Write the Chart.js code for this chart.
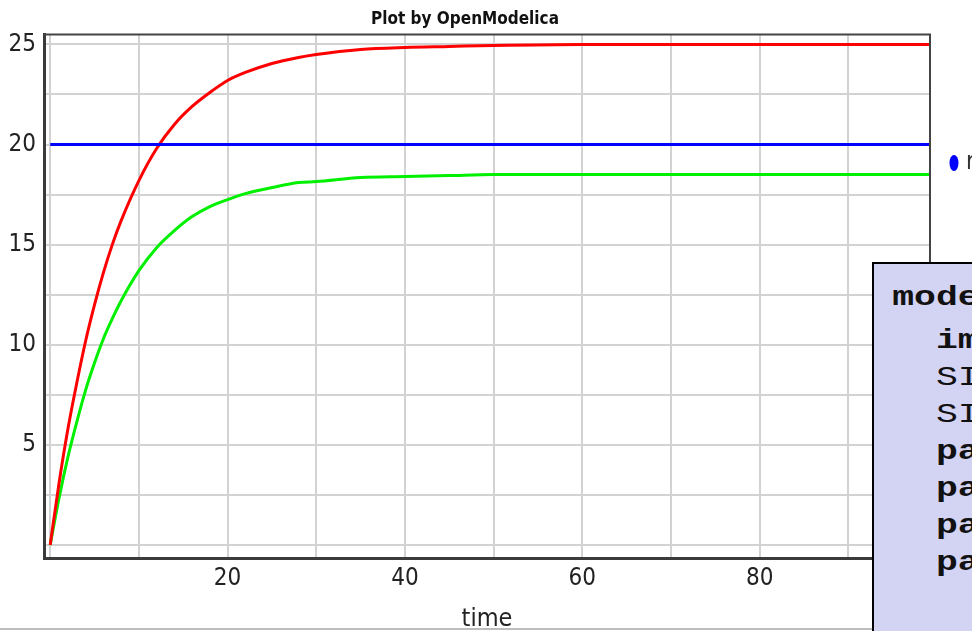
<!DOCTYPE html>
<html>
<head>
<meta charset="utf-8">
<script src="https://cdn.jsdelivr.net/npm/chart.js@4.4.0/dist/chart.umd.min.js"></script>
<style>
  html, body { margin: 0; padding: 0; background: #fff; overflow: hidden; }
  #wrap { position: relative; width: 972px; height: 631px; }
  #grafico { position: absolute; left: 0; top: 0; }
  #codigo {
    position: absolute; left: 872px; top: 262px; width: 140px; height: 400px;
    background: #d3d3f3; border: 2px solid #000; overflow: hidden;
  }
  #codigo .txt {
    padding: 15px 0 0 14px;
    font-family: 'Liberation Mono', 'DejaVu Sans Mono', monospace;
    font-size: 28px; line-height: 37px; color: #111; white-space: pre;
    transform: scaleX(1.3); transform-origin: left top;
  }
  #codigo .txt div:first-child { height: 43px; }
  #codigo b { font-weight: bold; }
  #linea { position: absolute; left: 0; top: 628px; width: 872px; height: 2px; background: #bdbdbd; }
</style>
</head>
<body>
<div id="wrap">
  <canvas id="grafico" width="972" height="631"></canvas>
  <div id="linea"></div>
  <div id="codigo"><div class="txt"><div><b>model</b></div><div>  <b>import</b></div><div>  SI</div><div>  SI</div><div>  <b>parameter</b></div><div>  <b>parameter</b></div><div>  <b>parameter</b></div><div>  <b>parameter</b></div></div></div>
</div>
<script>
// valores
var tiempo = [0, 1, 2, 3, 4, 5, 6, 7, 8, 10, 12, 14, 16, 18, 20, 22, 25, 28, 30, 35, 40, 45, 50, 60, 70, 80, 90, 100];
var serieRoja = [0, 3.1, 5.8, 8.1, 10.2, 12.0, 13.6, 15.0, 16.2, 18.2, 19.8, 21.0, 21.9, 22.6, 23.2, 23.6, 24.05, 24.35, 24.5, 24.75, 24.85, 24.9, 24.95, 25, 25, 25, 25, 25];
var serieVerde = [0, 2.35, 4.4, 6.15, 7.75, 9.1, 10.3, 11.3, 12.2, 13.7, 14.85, 15.7, 16.4, 16.9, 17.25, 17.55, 17.85, 18.1, 18.15, 18.35, 18.4, 18.45, 18.5, 18.5, 18.5, 18.5, 18.5, 18.5];
var serieAzul = [20, 20, 20, 20, 20, 20, 20, 20, 20, 20, 20, 20, 20, 20, 20, 20, 20, 20, 20, 20, 20, 20, 20, 20, 20, 20, 20, 20];
var nombres = ['ref', 'y1', 'y2'];
var ticksX = [0, 10, 20, 30, 40, 50, 60, 70, 80, 90];
var ticksY = [0, 2.5, 5, 7.5, 10, 12.5, 15, 17.5, 20, 22.5, 25];

var fuente = "'Liberation Sans Narrow', 'DejaVu Sans Condensed', 'Liberation Sans', sans-serif";

function puntos(valores) {
    return tiempo.map((t, i) => ({ x: t, y: valores[i] }));
}

// marco superior/derecho y leyenda recortada
var marco = {
    id: 'marco',
    afterDraw: function (chart) {
        var ctx = chart.ctx;
        var a = chart.chartArea;
        ctx.save();
        ctx.strokeStyle = '#444';
        ctx.lineWidth = 2;
        ctx.beginPath();
        ctx.moveTo(a.left, a.top);
        ctx.lineTo(a.right, a.top);
        ctx.lineTo(a.right, a.bottom);
        ctx.stroke();
        var ds = chart.data.datasets[0];
        ctx.fillStyle = ds.borderColor;
        ctx.beginPath();
        ctx.ellipse(954, 163, 4.5, 8, 0, 0, Math.PI * 2);
        ctx.fill();
        ctx.fillStyle = '#333';
        ctx.font = '24px ' + fuente;
        ctx.textBaseline = 'middle';
        ctx.fillText(ds.label, 966, 163);
        ctx.restore();
    }
};

var ctx = document.getElementById('grafico').getContext('2d');
var chart = new Chart(ctx, {
    type: 'line',
    data: {
        datasets: [
            { label: nombres[0], data: puntos(serieAzul), borderColor: '#0000ff' },
            { label: nombres[1], data: puntos(serieRoja), borderColor: '#ff0000' },
            { label: nombres[2], data: puntos(serieVerde), borderColor: '#00f000' }
        ]
    },
    options: {
        responsive: false,
        animation: false,
        datasets: {
            line: { borderWidth: 3, pointRadius: 0, cubicInterpolationMode: 'monotone', fill: false }
        },
        layout: { padding: { right: 42 } },
        scales: {
            x: {
                type: 'linear',
                min: -0.7,
                max: 99.2,
                afterBuildTicks: function (axis) { axis.ticks = ticksX.map(v => ({ value: v })); },
                afterFit: function (axis) { axis.height = 73; },
                grid: { color: '#d2d2d2', lineWidth: 2, drawTicks: false },
                border: { display: true, color: '#3a3a3a', width: 3 },
                ticks: {
                    padding: 6,
                    color: '#222',
                    font: { family: fuente, size: 24 },
                    maxRotation: 0,
                    autoSkip: false,
                    callback: function (v) { return (v > 0 && v % 20 === 0) ? v : ''; }
                },
                title: {
                    display: true,
                    text: 'time',
                    color: '#222',
                    font: { family: fuente, size: 25 },
                    padding: { top: 0, bottom: -3 }
                }
            },
            y: {
                type: 'linear',
                min: -0.65,
                max: 25.5,
                afterBuildTicks: function (axis) { axis.ticks = ticksY.map(v => ({ value: v })); },
                afterFit: function (axis) { axis.width = 44; },
                grid: { color: '#d2d2d2', lineWidth: 2, drawTicks: false },
                border: { display: true, color: '#3a3a3a', width: 3 },
                ticks: {
                    padding: 8,
                    color: '#222',
                    font: { family: fuente, size: 24 },
                    autoSkip: false,
                    callback: function (v) { return (v > 0 && v % 5 === 0) ? v : ''; }
                }
            }
        },
        plugins: {
            legend: { display: false },
            tooltip: { enabled: false },
            title: {
                display: true,
                text: 'Plot by OpenModelica',
                color: '#111',
                font: { family: fuente, size: 17, weight: 'bold' },
                padding: { top: 9, bottom: 5 }
            }
        }
    },
    plugins: [marco]
});
</script>
</body>
</html>
